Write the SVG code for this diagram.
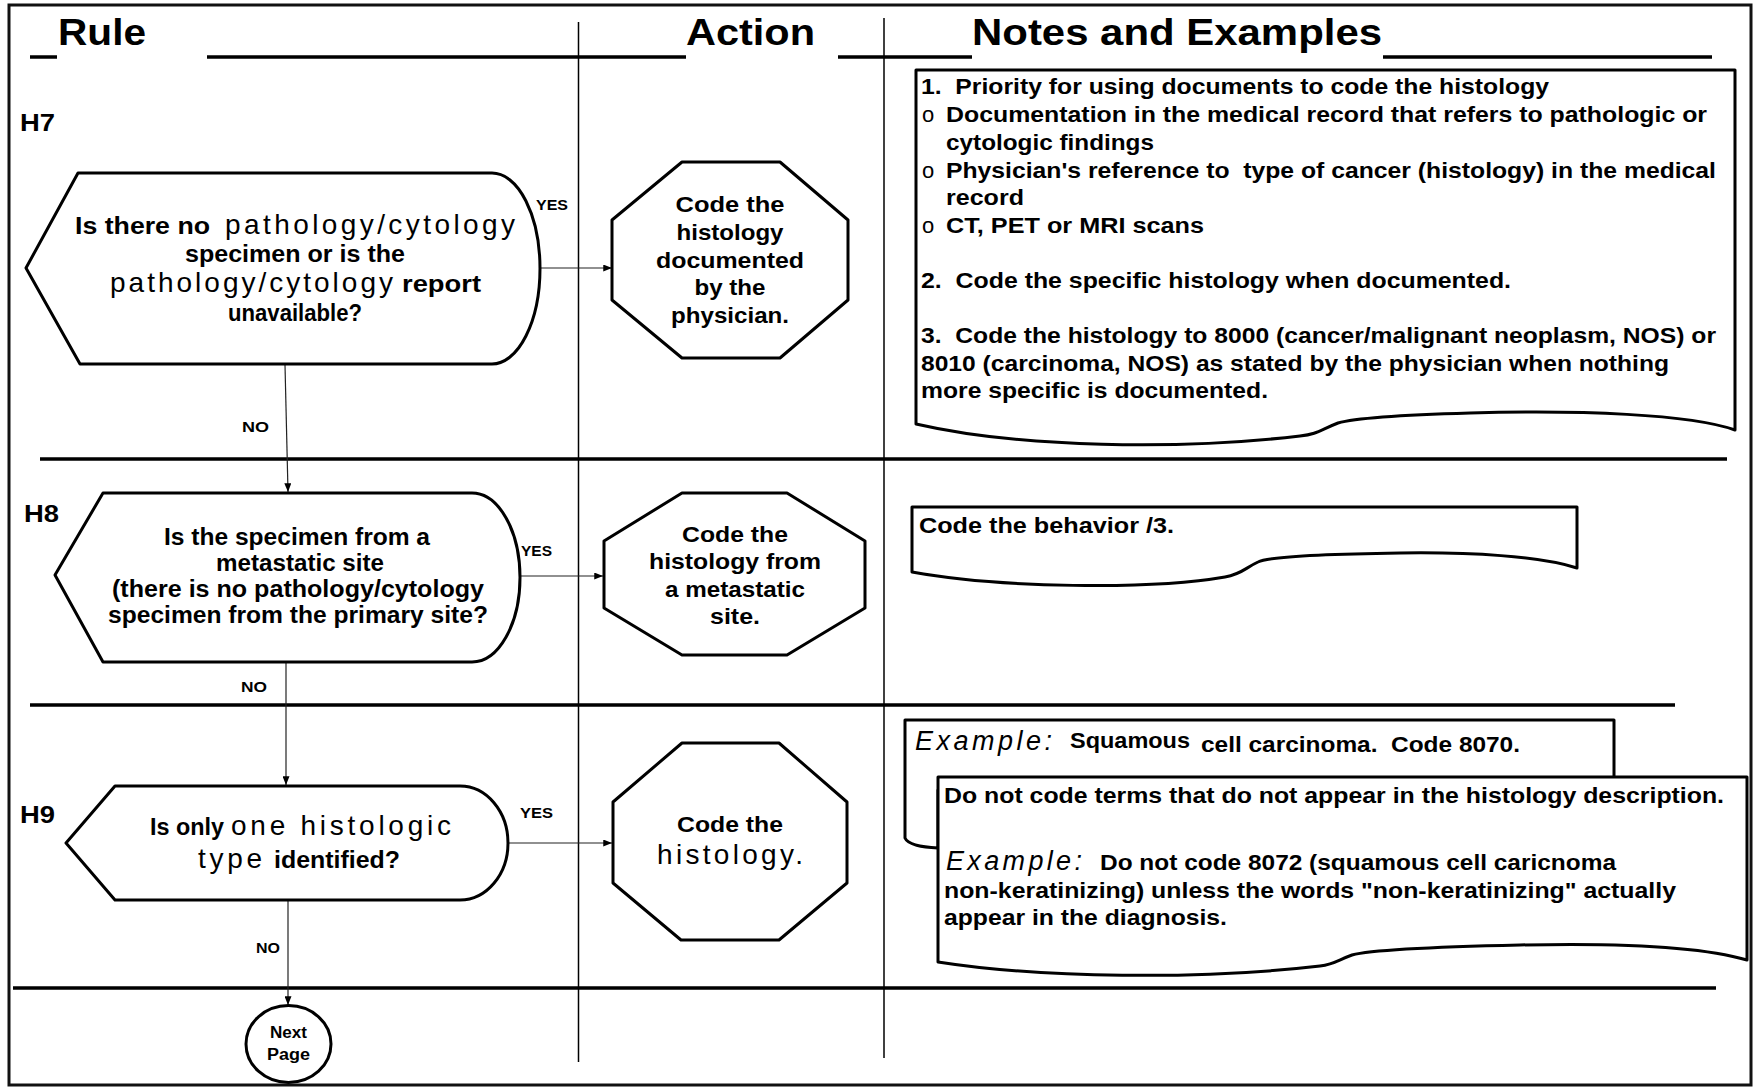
<svg xmlns="http://www.w3.org/2000/svg" width="1756" height="1087" viewBox="0 0 1756 1087">
<style>
text { font-family: "Liberation Sans", Arial, Helvetica, sans-serif; fill:#000; }
.hdr { font-size:37px; font-weight:bold; }
.lbl { font-size:24px; font-weight:bold; }
.yn { font-size:15px; font-weight:bold; }
.q { font-size:23px; font-weight:bold; }
.qr { font-size:28px; font-weight:normal; }
.act { font-size:22px; font-weight:bold; text-anchor:middle; }
.actr { font-size:28px; font-weight:normal; text-anchor:middle; }
.np { font-size:16px; font-weight:bold; text-anchor:middle; }
.note { font-size:22px; font-weight:bold; }
.bul { font-size:22px; font-weight:normal; }
.ex { font-size:27px; font-style:italic; font-weight:normal; }
.shape { fill:#fff; stroke:#000; stroke-width:3; stroke-linejoin:round; }
.doc { fill:#fff; stroke:#000; stroke-width:3; stroke-linejoin:round; }
.thick { stroke:#000; stroke-width:3.5; fill:none; }
.thin { stroke:#000; stroke-width:1.5; fill:none; }
.conn { stroke:#222; stroke-width:1.2; fill:none; }
</style>
<defs>
<marker id="ah" viewBox="0 0 10 8" refX="10" refY="4" markerWidth="9" markerHeight="7" markerUnits="userSpaceOnUse" orient="auto">
<path d="M0,0 L10,4 L0,8 Z" fill="#000"/>
</marker>
</defs>
<rect x="0" y="0" width="1756" height="1087" fill="#fff"/>
<g id="frame">
<rect x="9" y="5" width="1742" height="1080" fill="none" stroke="#111" stroke-width="3"/>
<line class="thick" x1="30" y1="57" x2="57" y2="57"/>
<line class="thick" x1="207" y1="57" x2="686" y2="57"/>
<line class="thick" x1="838" y1="57" x2="972" y2="57"/>
<line class="thick" x1="1383" y1="57" x2="1712" y2="57"/>
<line class="thin" x1="578.5" y1="22" x2="578.5" y2="1062"/>
<line class="thin" x1="884" y1="18" x2="884" y2="1058"/>
<line class="thick" x1="40" y1="459" x2="1727" y2="459"/>
<line class="thick" x1="30" y1="705" x2="1675" y2="705"/>
<line class="thick" x1="13" y1="988" x2="1716" y2="988"/>
<text class="hdr" x="58" y="45" textLength="88" lengthAdjust="spacingAndGlyphs">Rule</text>
<text class="hdr" x="686" y="45" textLength="129" lengthAdjust="spacingAndGlyphs">Action</text>
<text class="hdr" x="972" y="45" textLength="410" lengthAdjust="spacingAndGlyphs">Notes and Examples</text>
<text class="lbl" x="20" y="131" textLength="35" lengthAdjust="spacingAndGlyphs">H7</text>
<text class="lbl" x="24" y="522" textLength="35" lengthAdjust="spacingAndGlyphs">H8</text>
<text class="lbl" x="20" y="823" textLength="35" lengthAdjust="spacingAndGlyphs">H9</text>
</g>
<g id="connectors">
<line class="conn" x1="541" y1="268" x2="612" y2="268" marker-end="url(#ah)"/>
<line class="conn" x1="285" y1="365" x2="288" y2="492" marker-end="url(#ah)"/>
<line class="conn" x1="520" y1="576" x2="603" y2="576" marker-end="url(#ah)"/>
<line class="conn" x1="286" y1="662" x2="286" y2="785" marker-end="url(#ah)"/>
<line class="conn" x1="508" y1="843" x2="612" y2="843" marker-end="url(#ah)"/>
<line class="conn" x1="288" y1="900" x2="288" y2="1005" marker-end="url(#ah)"/>
<text class="yn" x="536" y="210" textLength="32" lengthAdjust="spacingAndGlyphs">YES</text>
<text class="yn" x="242" y="432" textLength="27" lengthAdjust="spacingAndGlyphs">NO</text>
<text class="yn" x="521" y="556" textLength="31" lengthAdjust="spacingAndGlyphs">YES</text>
<text class="yn" x="241" y="692" textLength="26" lengthAdjust="spacingAndGlyphs">NO</text>
<text class="yn" x="520" y="818" textLength="33" lengthAdjust="spacingAndGlyphs">YES</text>
<text class="yn" x="256" y="953" textLength="24" lengthAdjust="spacingAndGlyphs">NO</text>
</g>
<g id="h7-decision">
<path class="shape" d="M78,173 H492 A48,95.5 0 0 1 492,364 H80 L26,268 Z"/>
<text class="q" x="75" y="234" textLength="135" lengthAdjust="spacingAndGlyphs">Is there no</text>
<text class="qr" x="225" y="234" textLength="290" lengthAdjust="spacing">pathology/cytology</text>
<text class="q" x="185" y="262" textLength="220" lengthAdjust="spacingAndGlyphs">specimen or is the</text>
<text class="qr" x="110" y="292" textLength="283" lengthAdjust="spacing">pathology/cytology</text>
<text class="q" x="402" y="292" textLength="79" lengthAdjust="spacingAndGlyphs">report</text>
<text class="q" x="228" y="321" textLength="134" lengthAdjust="spacingAndGlyphs">unavailable?</text>
</g>
<g id="h7-action">
<polygon class="shape" points="682,162 780,162 848,220 848,300 780,358 682,358 612,300 612,220"/>
<text class="act" x="730" y="212" textLength="109" lengthAdjust="spacingAndGlyphs">Code the</text>
<text class="act" x="730" y="240" textLength="107" lengthAdjust="spacingAndGlyphs">histology</text>
<text class="act" x="730" y="268" textLength="148" lengthAdjust="spacingAndGlyphs">documented</text>
<text class="act" x="730" y="295" textLength="71" lengthAdjust="spacingAndGlyphs">by the</text>
<text class="act" x="730" y="323" textLength="118" lengthAdjust="spacingAndGlyphs">physician.</text>
</g>
<g id="h7-notes">
<path class="doc" d="M916,70 H1735 V430 C1690,414 1580,410 1470,413 C1400,415 1355,418 1338,423 C1320,430 1318,434 1300,436 C1180,450 1020,448 916,424 Z"/>
<text class="note" x="921" y="94" textLength="628" lengthAdjust="spacingAndGlyphs">1.&#160; Priority for using documents to code the histology</text>
<text class="bul" x="922" y="122">o</text>
<text class="note" x="946" y="122" textLength="761" lengthAdjust="spacingAndGlyphs">Documentation in the medical record that refers to pathologic or</text>
<text class="note" x="946" y="150" textLength="208" lengthAdjust="spacingAndGlyphs">cytologic findings</text>
<text class="bul" x="922" y="178">o</text>
<text class="note" x="946" y="178" textLength="770" lengthAdjust="spacingAndGlyphs">Physician's reference to&#160; type of cancer (histology) in the medical</text>
<text class="note" x="946" y="205" textLength="78" lengthAdjust="spacingAndGlyphs">record</text>
<text class="bul" x="922" y="233">o</text>
<text class="note" x="946" y="233" textLength="258" lengthAdjust="spacingAndGlyphs">CT, PET or MRI scans</text>
<text class="note" x="921" y="288" textLength="590" lengthAdjust="spacingAndGlyphs">2.&#160; Code the specific histology when documented.</text>
<text class="note" x="921" y="343" textLength="795" lengthAdjust="spacingAndGlyphs">3.&#160; Code the histology to 8000 (cancer/malignant neoplasm, NOS) or</text>
<text class="note" x="921" y="371" textLength="748" lengthAdjust="spacingAndGlyphs">8010 (carcinoma, NOS) as stated by the physician when nothing</text>
<text class="note" x="921" y="398" textLength="347" lengthAdjust="spacingAndGlyphs">more specific is documented.</text>
</g>
<g id="h8-decision">
<path class="shape" d="M103,493 H472 A48,84.5 0 0 1 472,662 H103 L55,575 Z"/>
<text class="q" x="164" y="545" textLength="266" lengthAdjust="spacingAndGlyphs">Is the specimen from a</text>
<text class="q" x="216" y="571" textLength="168" lengthAdjust="spacingAndGlyphs">metastatic site</text>
<text class="q" x="112" y="597" textLength="372" lengthAdjust="spacingAndGlyphs">(there is no pathology/cytology</text>
<text class="q" x="108" y="623" textLength="380" lengthAdjust="spacingAndGlyphs">specimen from the primary site?</text>
</g>
<g id="h8-action">
<polygon class="shape" points="682,493 787,493 865,541 865,608 787,655 682,655 604,608 604,541"/>
<text class="act" x="735" y="542" textLength="106" lengthAdjust="spacingAndGlyphs">Code the</text>
<text class="act" x="735" y="569" textLength="172" lengthAdjust="spacingAndGlyphs">histology from</text>
<text class="act" x="735" y="597" textLength="140" lengthAdjust="spacingAndGlyphs">a metastatic</text>
<text class="act" x="735" y="624" textLength="50" lengthAdjust="spacingAndGlyphs">site.</text>
</g>
<g id="h8-notes">
<path class="doc" stroke-width="2.5" d="M912,507 H1577 V568 C1540,556 1470,552 1400,553 C1330,554 1270,556 1258,562 C1245,568 1242,574 1225,577 C1150,590 1000,588 912,572 Z"/>
<text class="note" x="919" y="533" textLength="255" lengthAdjust="spacingAndGlyphs">Code the behavior /3.</text>
</g>
<g id="h9-decision">
<path class="shape" d="M115,786 H460 A48,57 0 0 1 460,900 H115 L66,843 Z"/>
<text class="q" x="150" y="835" textLength="74" lengthAdjust="spacingAndGlyphs">Is only</text>
<text class="qr" x="231" y="835" textLength="220" lengthAdjust="spacing">one histologic</text>
<text class="qr" x="198" y="868" textLength="64" lengthAdjust="spacing">type</text>
<text class="q" x="274" y="868" textLength="126" lengthAdjust="spacingAndGlyphs">identified?</text>
</g>
<g id="h9-action">
<polygon class="shape" points="682,743 779,743 847,802 847,883 779,940 681,940 613,883 613,802"/>
<text class="act" x="730" y="832" textLength="106" lengthAdjust="spacingAndGlyphs">Code the</text>
<text class="actr" x="730" y="864" textLength="146" lengthAdjust="spacing">histology.</text>
</g>
<g id="h9-notes-example">
<path class="doc" d="M905,720 H1614 V790 H938 V848 C922,847 908,845 905,838 Z"/>
<text class="ex" x="915" y="750" textLength="137" lengthAdjust="spacing">Example:</text>
<text class="note" x="1070" y="748" textLength="120" lengthAdjust="spacingAndGlyphs">Squamous</text>
<text class="note" x="1201" y="752" textLength="319" lengthAdjust="spacingAndGlyphs">cell carcinoma.&#160; Code 8070.</text>
</g>
<g id="h9-notes">
<path class="doc" d="M938,777 H1747 V960 C1700,946 1610,943 1520,945 C1430,947 1370,950 1352,955 C1338,960 1335,964 1320,966 C1200,980 1040,978 938,962 Z"/>
<text class="note" x="944" y="803" textLength="780" lengthAdjust="spacingAndGlyphs">Do not code terms that do not appear in the histology description.</text>
<text class="ex" x="946" y="870" textLength="136" lengthAdjust="spacing">Example:</text>
<text class="note" x="1100" y="870" textLength="516" lengthAdjust="spacingAndGlyphs">Do not code 8072 (squamous cell caricnoma</text>
<text class="note" x="944" y="898" textLength="732" lengthAdjust="spacingAndGlyphs">non-keratinizing) unless the words "non-keratinizing" actually</text>
<text class="note" x="944" y="925" textLength="283" lengthAdjust="spacingAndGlyphs">appear in the diagnosis.</text>
</g>
<g id="next-page">
<ellipse class="shape" cx="288.5" cy="1044" rx="42.5" ry="38.5"/>
<text class="np" x="288.5" y="1038" textLength="37" lengthAdjust="spacingAndGlyphs">Next</text>
<text class="np" x="288.5" y="1060" textLength="43" lengthAdjust="spacingAndGlyphs">Page</text>
</g>
</svg>
